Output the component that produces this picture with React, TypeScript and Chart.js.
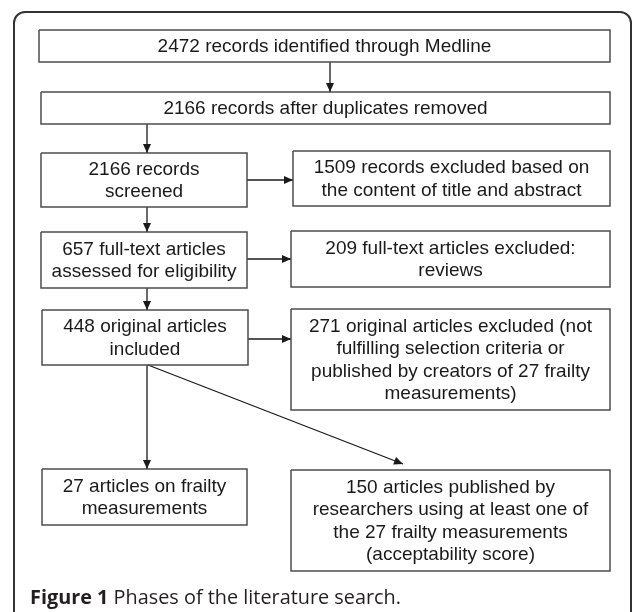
import React, { useEffect, useRef } from "react";
import { Chart, registerables } from "chart.js";

Chart.register(...registerables);

// ---- content ----
const NODE_TEXT: string[][] = [
  ["2472 records identified through Medline"],
  ["2166 records after duplicates removed"],
  ["2166 records", "screened"],
  ["1509 records excluded based on", "the content of title and abstract"],
  ["657 full-text articles", "assessed for eligibility"],
  ["209 full-text articles excluded:", "reviews"],
  ["448 original articles", "included"],
  ["271 original articles excluded (not", "fulfilling selection criteria or", "published by creators of 27 frailty", "measurements)"],
  ["27 articles on frailty", "measurements"],
  ["150 articles published by", "researchers using at least one of", "the 27 frailty measurements", "(acceptability score)"],
];

const CAPTION_BOLD = "Figure 1";
const CAPTION_REST = " Phases of the literature search.";

// ---- layout (diagram units, mapped through the chart scales) ----
const NODE_LEFT = [39, 41, 41, 293, 41, 291, 42, 291, 42, 291];
const NODE_TOP = [30, 92, 153, 151, 232, 231, 310, 309, 469, 470];
const NODE_RIGHT = [610, 610, 247, 610, 247, 610, 248, 610, 247, 610];
const NODE_BOTTOM = [62, 124, 207, 206, 288, 287, 365, 410, 525, 571];

const EDGE_X1 = [330, 147, 247, 147, 247, 147, 248, 147, 148];
const EDGE_Y1 = [62, 124, 180, 207, 259, 288, 339, 365, 365];
const EDGE_X2 = [330, 147, 293, 147, 291, 147, 291, 147, 403];
const EDGE_Y2 = [92, 153, 180, 232, 259, 310, 339, 469, 464];

const W = 633;
const H = 612;

export default function App() {
  const ref = useRef<HTMLCanvasElement | null>(null);

  useEffect(() => {
    const canvas = ref.current;
    if (!canvas) return;

    const boxSets = NODE_TEXT.map((_, i) => ({
      label: "box" + i,
      data: [
        { x: NODE_LEFT[i], y: NODE_TOP[i] },
        { x: NODE_RIGHT[i], y: NODE_TOP[i] },
        { x: NODE_RIGHT[i], y: NODE_BOTTOM[i] },
        { x: NODE_LEFT[i], y: NODE_BOTTOM[i] },
        { x: NODE_LEFT[i], y: NODE_TOP[i] },
      ],
      showLine: true,
      borderColor: "#4d4d4d",
      borderWidth: 1.5,
      pointRadius: 0,
      fill: false,
      tension: 0,
      borderJoinStyle: "miter" as const,
    }));

    const edgeSets = EDGE_X1.map((_, i) => ({
      label: "edge" + i,
      data: [
        { x: EDGE_X1[i], y: EDGE_Y1[i] },
        { x: EDGE_X2[i], y: EDGE_Y2[i] },
      ],
      showLine: true,
      borderColor: "#1a1a1a",
      borderWidth: 1.3,
      pointRadius: 0,
      fill: false,
      tension: 0,
    }));

    const flowPlugin = {
      id: "flow",
      beforeDraw(chart: any) {
        const { ctx } = chart;
        ctx.save();
        ctx.fillStyle = "#ffffff";
        ctx.fillRect(0, 0, chart.width, chart.height);
        // outer frame
        const xs = chart.scales.x;
        const ys = chart.scales.y;
        const l = xs.getPixelForValue(14);
        const r = xs.getPixelForValue(631);
        const t = ys.getPixelForValue(12);
        const b = ys.getPixelForValue(640);
        const rad = 11;
        ctx.beginPath();
        ctx.moveTo(l, b);
        ctx.lineTo(l, t + rad);
        ctx.arcTo(l, t, l + rad, t, rad);
        ctx.lineTo(r - rad, t);
        ctx.arcTo(r, t, r, t + rad, rad);
        ctx.lineTo(r, b);
        ctx.strokeStyle = "#333333";
        ctx.lineWidth = 2;
        ctx.stroke();
        ctx.restore();
      },
      afterDatasetsDraw(chart: any) {
        const { ctx } = chart;
        const xs = chart.scales.x;
        const ys = chart.scales.y;
        ctx.save();
        // arrowheads
        ctx.fillStyle = "#1a1a1a";
        for (let i = 0; i < EDGE_X1.length; i++) {
          const x1 = xs.getPixelForValue(EDGE_X1[i]);
          const y1 = ys.getPixelForValue(EDGE_Y1[i]);
          const x2 = xs.getPixelForValue(EDGE_X2[i]);
          const y2 = ys.getPixelForValue(EDGE_Y2[i]);
          const ang = Math.atan2(y2 - y1, x2 - x1);
          const len = 9;
          const hw = 4;
          const bx = x2 - len * Math.cos(ang);
          const by = y2 - len * Math.sin(ang);
          ctx.beginPath();
          ctx.moveTo(x2, y2);
          ctx.lineTo(bx + hw * Math.sin(ang), by - hw * Math.cos(ang));
          ctx.lineTo(bx - hw * Math.sin(ang), by + hw * Math.cos(ang));
          ctx.closePath();
          ctx.fill();
        }
        // node text
        ctx.fillStyle = "#1a1a1a";
        ctx.font = '19px "Liberation Sans", Arial, sans-serif';
        ctx.textAlign = "center";
        ctx.textBaseline = "middle";
        const lh = 22.5;
        NODE_TEXT.forEach((lines, i) => {
          const cx = (xs.getPixelForValue(NODE_LEFT[i]) + xs.getPixelForValue(NODE_RIGHT[i])) / 2;
          const cy = (ys.getPixelForValue(NODE_TOP[i]) + ys.getPixelForValue(NODE_BOTTOM[i])) / 2;
          const start = cy - ((lines.length - 1) * lh) / 2;
          lines.forEach((ln, j) => {
            ctx.fillText(ln, cx, start + j * lh + 1);
          });
        });
        // caption
        ctx.textAlign = "left";
        ctx.textBaseline = "alphabetic";
        ctx.fillStyle = "#231f20";
        const boldFont = 'bold 20px "Open Sans", "Noto Sans", sans-serif';
        const regFont = '20px "Open Sans", "Noto Sans", sans-serif';
        ctx.font = boldFont;
        const wb = ctx.measureText(CAPTION_BOLD).width;
        ctx.font = regFont;
        const wr = ctx.measureText(CAPTION_REST).width;
        const target = 371;
        const sx = target / (wb + wr);
        ctx.translate(xs.getPixelForValue(30), ys.getPixelForValue(604));
        ctx.scale(sx, 1);
        ctx.font = boldFont;
        ctx.fillText(CAPTION_BOLD, 0, 0);
        ctx.font = regFont;
        ctx.fillText(CAPTION_REST, wb, 0);
        ctx.restore();
      },
    };

    const chart = new Chart(canvas, {
      type: "scatter",
      data: { datasets: [...boxSets, ...edgeSets] as any },
      options: {
        animation: false,
        responsive: false,
        maintainAspectRatio: false,
        layout: { padding: 0 },
        scales: {
          x: { type: "linear", min: 0, max: W, display: false },
          y: { type: "linear", min: 0, max: H, reverse: true, display: false },
        },
        plugins: {
          legend: { display: false },
          tooltip: { enabled: false },
        },
      } as any,
      plugins: [flowPlugin],
    });

    return () => chart.destroy();
  }, []);

  return (
    <div style={{ position: "absolute", left: 0, top: 0, width: W, height: H, background: "#fff" }}>
      <canvas ref={ref} width={W} height={H} style={{ display: "block", width: W, height: H }} />
    </div>
  );
}
